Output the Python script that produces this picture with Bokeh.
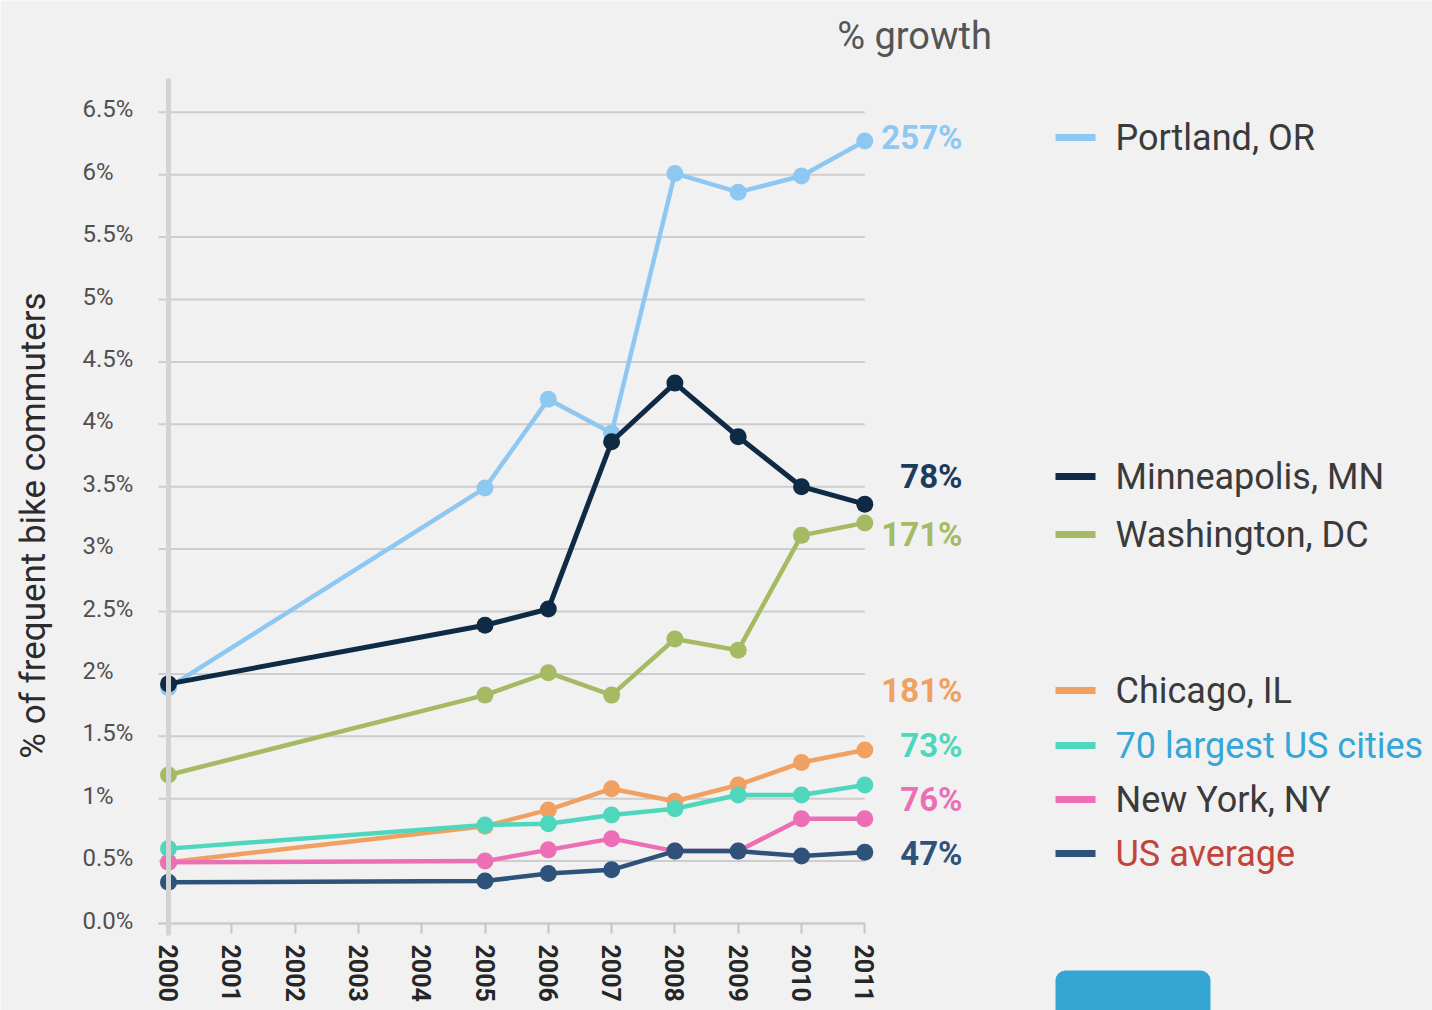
import math
from bokeh.plotting import figure
from bokeh.models import LinearAxis, FixedTicker, Range1d
from bokeh.core.properties import value
from bokeh.embed import file_html
from bokeh.resources import INLINE

# ---------------- data ----------------
years = [2000, 2005, 2006, 2007, 2008, 2009, 2010, 2011]
portland = [1.89, 3.49, 4.20, 3.93, 6.01, 5.86, 5.99, 6.27]
minneapolis = [1.92, 2.39, 2.52, 3.86, 4.33, 3.90, 3.50, 3.36]
washington = [1.19, 1.83, 2.01, 1.83, 2.28, 2.19, 3.11, 3.21]
chicago = [0.49, 0.78, 0.91, 1.08, 0.98, 1.11, 1.29, 1.39]
largest70 = [0.60, 0.79, 0.80, 0.87, 0.92, 1.03, 1.03, 1.11]
new_york = [0.49, 0.50, 0.59, 0.68, 0.58, 0.58, 0.84, 0.84]
us_average = [0.33, 0.34, 0.40, 0.43, 0.58, 0.58, 0.54, 0.57]

series_names = ["Portland, OR", "Minneapolis, MN", "Washington, DC", "Chicago, IL",
                "70 largest US cities", "New York, NY", "US average"]
growth_labels = ["257%", "78%", "171%", "181%", "73%", "76%", "47%"]

x_ticks = list(range(2000, 2012))
y_ticks = [0, 0.5, 1, 1.5, 2, 2.5, 3, 3.5, 4, 4.5, 5, 5.5, 6, 6.5]
y_tick_labels = ["0.0%", "0.5%", "1%", "1.5%", "2%", "2.5%", "3%", "3.5%",
                 "4%", "4.5%", "5%", "5.5%", "6%", "6.5%"]

# ---------------- styles ----------------
colors = ["#8ec8f2", "#0f2a45", "#a5ba63", "#f0a060", "#4fd7bd", "#ec6fb6", "#2e5279"]
growth_colors = ["#8ec8f2", "#1d3b5c", "#a5ba63", "#f0a060", "#4fd7bd", "#ec6fb6", "#2e5279"]
legend_text_colors = ["#3a3a3a", "#3a3a3a", "#3a3a3a", "#3a3a3a", "#35a6d6", "#3a3a3a", "#c0453a"]
line_widths = [4.5, 5, 4.5, 4.5, 4.5, 4.5, 4.5]
marker_sizes = [17, 17, 17, 17, 17, 17, 17]
draw_order = [0, 2, 1, 3, 5, 4, 6]
FONT = value("Roboto")

# ---------------- layout ----------------
W, H = 1432, 1010
PX_YEAR = 63.3      # pixels per year
PX_UNIT = 124.8     # pixels per 1 %
ORIGIN_X, ORIGIN_Y = 168, 923   # canvas position of (2000, 0 %)
X0 = 2000 - ORIGIN_X / PX_YEAR
X1 = X0 + W / PX_YEAR
Y0 = -(H - ORIGIN_Y) / PX_UNIT
Y1 = Y0 + H / PX_UNIT


def hx(px):  # horizontal canvas offset -> data x
    return 2000 + (px - ORIGIN_X) / PX_YEAR


def vy(py):  # vertical canvas offset -> data y
    return (ORIGIN_Y - py) / PX_UNIT


row_y = [vy(137), vy(476), vy(534), vy(690), vy(745), vy(799), vy(853)]

p = figure(width=W, height=H, output_backend="svg", toolbar_location=None,
           x_axis_location=None, y_axis_location=None,
           x_range=Range1d(X0, X1), y_range=Range1d(Y0, Y1),
           min_border=0, outline_line_color=None)
p.background_fill_color = "#f1f1f2"
p.border_fill_color = "#f1f1f2"
for g in p.grid:
    g.visible = False

grid_x0 = hx(158)
grid_x1 = 2011

# grid lines
p.segment(x0=[grid_x0] * len(y_ticks), y0=y_ticks, x1=[grid_x1] * len(y_ticks), y1=y_ticks,
          line_color="#cdcdcd", line_width=2)

# y axis (line only)
yaxis = LinearAxis(fixed_location=2000, bounds=(vy(935), vy(78)),
                   ticker=FixedTicker(ticks=[], minor_ticks=[]))
yaxis.axis_line_color = "#d3d3d3"
yaxis.axis_line_width = 5
yaxis.major_tick_out = 0
yaxis.major_tick_in = 0
yaxis.minor_tick_out = 0
yaxis.minor_tick_in = 0
p.add_layout(yaxis, "left")

# x axis
xaxis = LinearAxis(fixed_location=0, bounds=(grid_x0, 2011),
                   ticker=FixedTicker(ticks=x_ticks, minor_ticks=[]))
xaxis.axis_line_color = "#cbcbcb"
xaxis.axis_line_width = 2
xaxis.major_tick_out = 10
xaxis.major_tick_in = 0
xaxis.major_tick_line_color = "#c4c4c4"
xaxis.major_tick_line_width = 2
xaxis.minor_tick_out = 0
xaxis.minor_tick_in = 0
xaxis.major_label_orientation = -math.pi / 2
xaxis.major_label_standoff = 11
xaxis.major_label_text_font = "Roboto"
xaxis.major_label_text_font_size = "25px"
xaxis.major_label_text_font_style = "bold"
xaxis.major_label_text_color = "#262626"
p.add_layout(xaxis, "below")

# y tick labels (left aligned)
p.text(x=[hx(82)] * len(y_ticks), y=y_ticks, text=y_tick_labels,
       text_align="left", text_baseline="middle", y_offset=-3,
       text_font=FONT, text_font_size="24px", text_color="#505050")

# y axis title
p.text(x=[hx(33)], y=[vy(525)], text=["% of frequent bike commuters"], angle=math.pi / 2,
       text_align="center", text_baseline="middle",
       text_font=FONT, text_font_size="35px", text_color="#2b2b2b")

# growth heading
p.text(x=[hx(914)], y=[vy(35)], text=["% growth"], text_align="center", text_baseline="middle",
       text_font=FONT, text_font_size="38px", text_color="#555555")

# series
all_series = [portland, minneapolis, washington, chicago, largest70, new_york, us_average]
for i in draw_order:
    p.line(years, all_series[i], line_color=colors[i], line_width=line_widths[i])
    p.scatter(years, all_series[i], size=marker_sizes[i], fill_color=colors[i], line_color=None)

# growth labels
p.text(x=[hx(962)] * 7, y=row_y, text=growth_labels, text_color=growth_colors,
       text_align="right", text_baseline="middle", text_font=FONT,
       text_font_size="33px", text_font_style="bold")

# legend
p.segment(x0=[hx(1055)] * 7, y0=row_y, x1=[hx(1095)] * 7, y1=row_y,
          line_color=colors, line_width=7)
p.text(x=[hx(1115)] * 7, y=row_y, text=series_names, text_color=legend_text_colors,
       text_align="left", text_baseline="middle", text_font=FONT, text_font_size="36px")

# blue button (page element)
p.quad(left=[hx(1055)], right=[hx(1210)], top=[vy(970)], bottom=[vy(1040)],
       fill_color="#35a5d3", line_color=None, border_radius=10)

open("out.html", "w").write(file_html(p, INLINE))
